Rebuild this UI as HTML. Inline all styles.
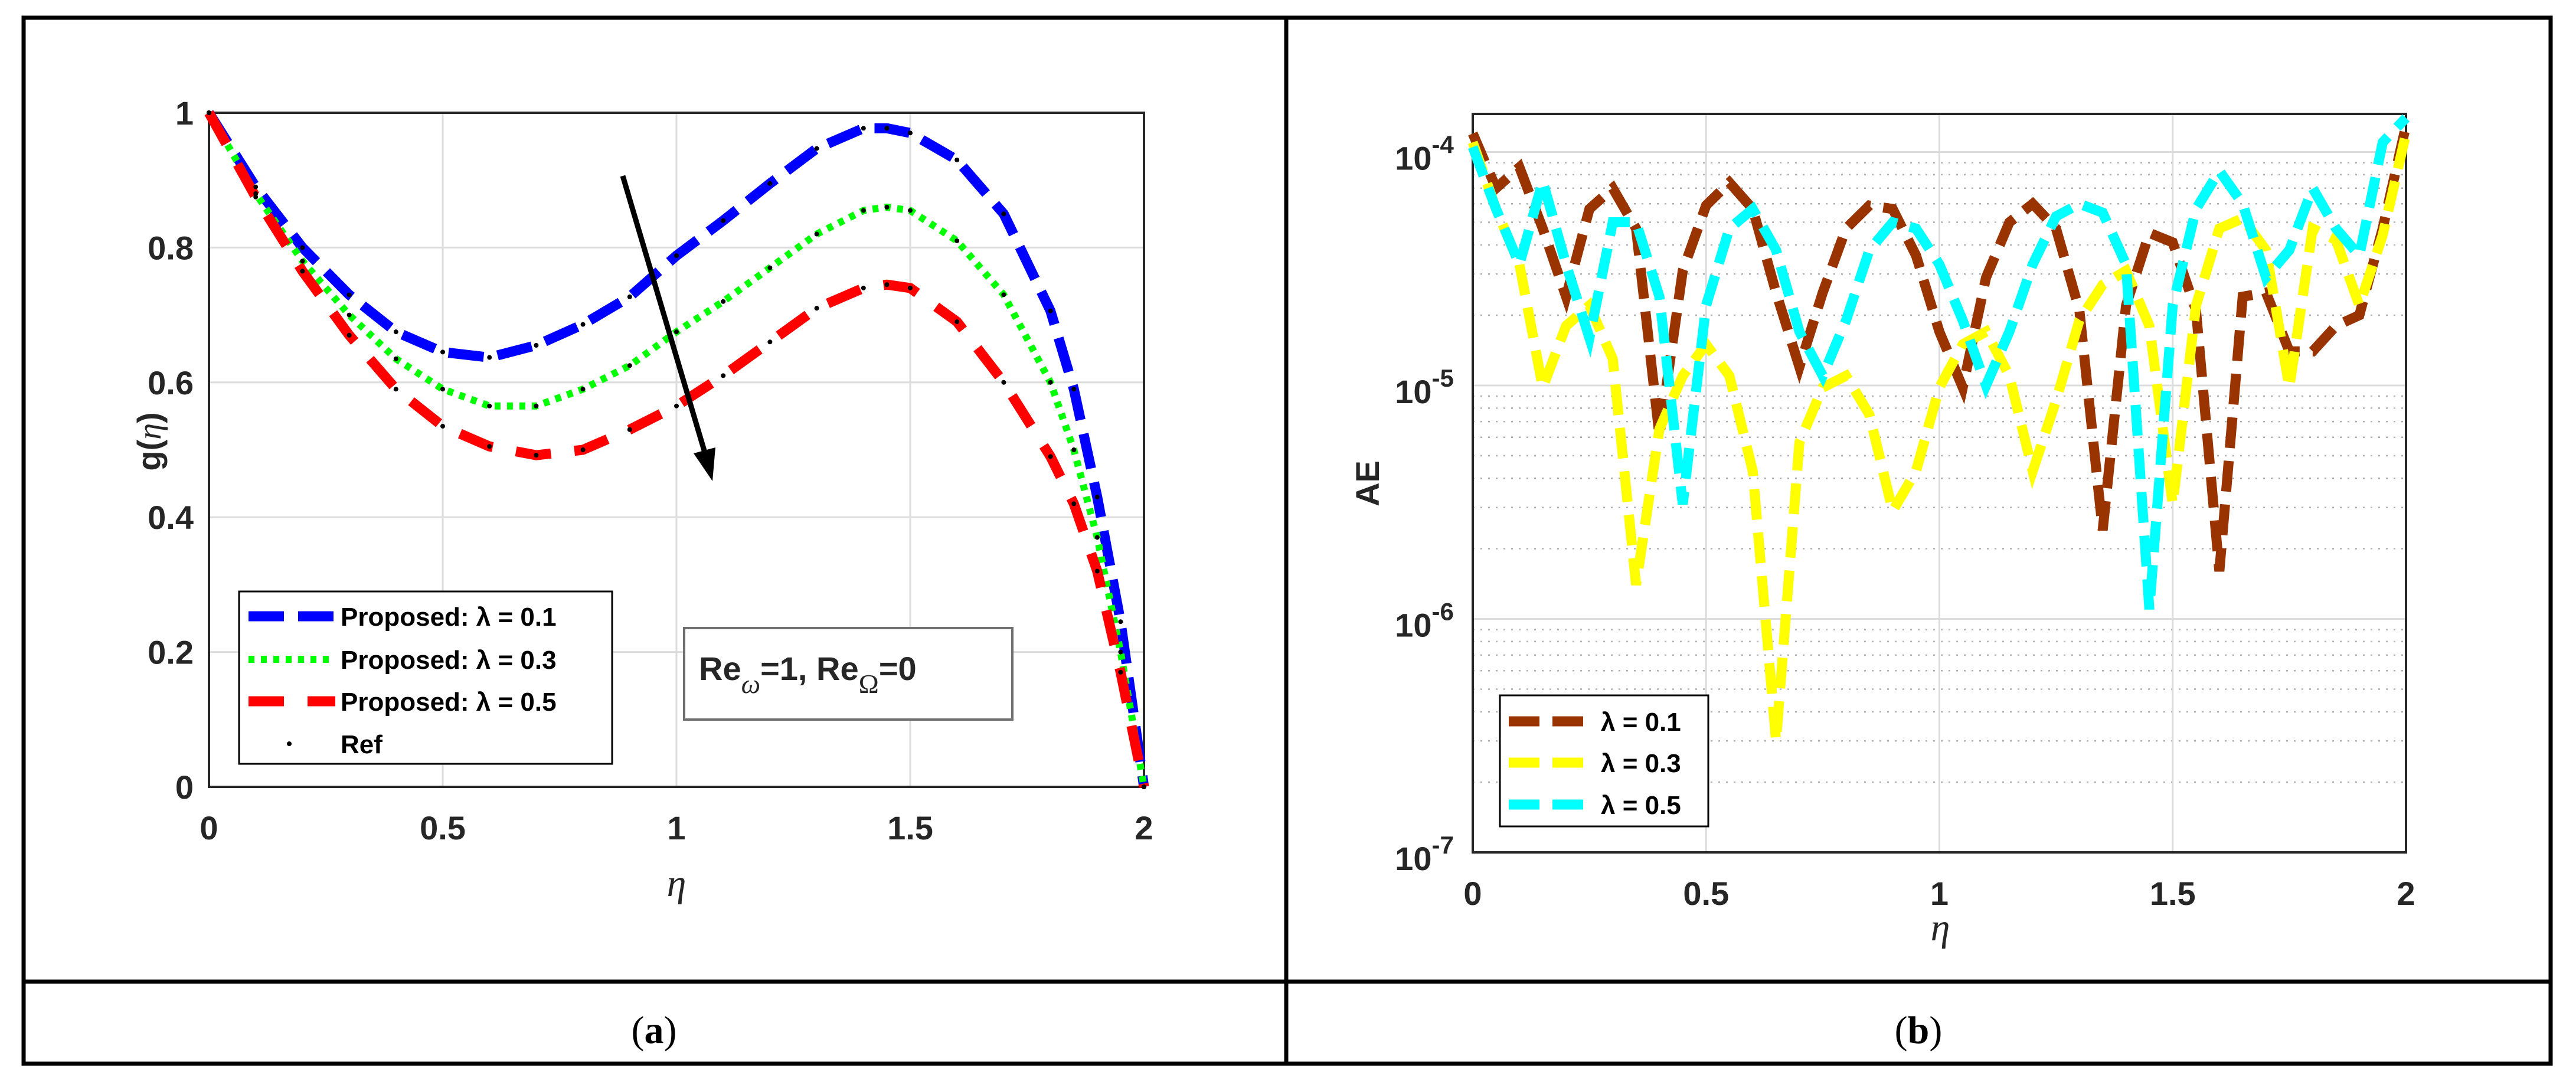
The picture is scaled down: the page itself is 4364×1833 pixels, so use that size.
<!DOCTYPE html>
<html><head><meta charset="utf-8">
<style>
html,body{margin:0;padding:0;background:#fff;}
svg{display:block;}
.tk{font-family:"Liberation Sans",Arial,sans-serif;font-weight:bold;font-size:56px;fill:#262626;}
.lg{font-family:"Liberation Sans",Arial,sans-serif;font-weight:bold;font-size:44px;fill:#000;}
.eta{font-family:"Liberation Serif",serif;font-style:italic;font-size:66px;fill:#262626;}
.cap{font-family:"Liberation Serif",serif;font-size:66px;fill:#000;}
</style></head>
<body>
<svg id="fig" width="4364" height="1833" viewBox="0 0 4364 1833" xmlns="http://www.w3.org/2000/svg">
<rect x="0" y="0" width="4364" height="1833" fill="#fff"/>
<g id="frame" fill="none" stroke="#000" stroke-width="7">
<rect x="40" y="30" width="4281" height="1772"/>
<line x1="2179" y1="30" x2="2179" y2="1802"/>
<line x1="40" y1="1663" x2="4321" y2="1663"/>
</g>
<text class="cap" x="1108" y="1767" text-anchor="middle">(<tspan font-weight="bold">a</tspan>)</text>
<text class="cap" x="3250" y="1767" text-anchor="middle">(<tspan font-weight="bold">b</tspan>)</text>
<g id="chartA"></g>
<g id="chartB"></g>
</svg>
<script>
// ---------- Chart (a) data ----------
const etaA = [0,0.1,0.2,0.3,0.4,0.5,0.6,0.7,0.8,0.9,1.0,1.1,1.2,1.3,1.4,1.45,1.5,1.6,1.7,1.8,1.85,1.9,1.95,2.0];
const gL01 = [1,0.89,0.80,0.73,0.675,0.645,0.637,0.655,0.686,0.727,0.788,0.84,0.895,0.947,0.977,0.977,0.97,0.93,0.85,0.706,0.59,0.43,0.245,0];
const gL03 = [1,0.88,0.78,0.70,0.635,0.59,0.565,0.565,0.59,0.625,0.675,0.72,0.77,0.82,0.855,0.86,0.855,0.81,0.73,0.60,0.50,0.37,0.20,0];
const gL05 = [1,0.875,0.765,0.67,0.59,0.535,0.505,0.492,0.50,0.53,0.565,0.61,0.66,0.71,0.74,0.745,0.74,0.69,0.60,0.49,0.42,0.32,0.17,0];
const xTicksA = [0,0.5,1,1.5,2];
const xTickLabelsA = ["0","0.5","1","1.5","2"];
const yTicksA = [0,0.2,0.4,0.6,0.8,1];
const yTickLabelsA = ["0","0.2","0.4","0.6","0.8","1"];
// ---------- Chart (b) data ----------
const etaB = [0,0.05,0.1,0.15,0.2,0.25,0.3,0.35,0.4,0.45,0.5,0.55,0.6,0.65,0.7,0.75,0.8,0.85,0.9,0.95,1.0,1.05,1.1,1.15,1.2,1.25,1.3,1.35,1.4,1.45,1.5,1.55,1.6,1.65,1.7,1.75,1.8,1.85,1.9,1.95,2.0];
const ae01 = [1.2e-4,7e-5,8.6e-5,4.7e-5,2.4e-5,5.7e-5,7e-5,4.7e-5,6.1e-6,3.1e-5,5.9e-5,7.4e-5,5.7e-5,2.5e-5,1.2e-5,2.5e-5,4.7e-5,5.9e-5,5.7e-5,3.6e-5,1.7e-5,9.8e-6,2.9e-5,5e-5,6e-5,4.7e-5,2.1e-5,2.4e-6,2.2e-5,4.5e-5,4.1e-5,2.1e-5,1.6e-6,2.4e-5,2.5e-5,1.4e-5,1.4e-5,1.8e-5,2e-5,4.7e-5,1.3e-4];
const ae03 = [1.1e-4,5.7e-5,3.3e-5,9.8e-6,1.8e-5,2.2e-5,1.3e-5,1.4e-6,6.5e-6,1.1e-5,1.5e-5,1.1e-5,4.3e-6,3e-7,5.7e-6,9.8e-6,1.1e-5,7.5e-6,2.9e-6,4.3e-6,9.8e-6,1.5e-5,1.7e-5,1.1e-5,4.3e-6,8.6e-6,1.9e-5,2.7e-5,3.1e-5,1.8e-5,3.1e-6,2.2e-5,4.7e-5,5.2e-5,3.8e-5,9.8e-6,4.7e-5,4.2e-5,2.2e-5,4.4e-5,1.2e-4];
const ae05 = [1.05e-4,5.7e-5,3.3e-5,7.5e-5,3.3e-5,1.6e-5,5e-5,5e-5,2.4e-5,3.1e-6,2.2e-5,4.7e-5,5.7e-5,3.8e-5,1.7e-5,1.1e-5,1.9e-5,3.8e-5,5e-5,4.7e-5,3.3e-5,1.9e-5,1e-5,1.7e-5,3.3e-5,5.3e-5,6e-5,5.5e-5,3.3e-5,1.1e-6,2.2e-5,5.7e-5,8.3e-5,6e-5,2.9e-5,3.8e-5,7e-5,4.7e-5,3.6e-5,1.1e-4,1.4e-4];
const xTicksB = [0,0.5,1,1.5,2];
const xTickLabelsB = ["0","0.5","1","1.5","2"];
const yDecadesB = [-7,-6,-5,-4];
const yTickExpB = ["-7","-6","-5","-4"];

const NS = "http://www.w3.org/2000/svg";
function mk(tag, attrs, parent){ const e=document.createElementNS(NS,tag); for(const k in attrs) e.setAttribute(k,attrs[k]); parent.appendChild(e); return e; }

// ---------- Chart A ----------
(function(){
  const g = document.getElementById('chartA');
  const L=354,R=1938,T=191,B=1333;
  const sx = v => L + (v-0)/(2-0)*(R-L);
  const sy = v => B - (v-0)/(1-0)*(B-T);
  xTicksA.forEach((t,i)=>{
    const gl = mk('line',{x1:sx(t),y1:T,x2:sx(t),y2:B,stroke:'#dcdcdc','stroke-width':3},g);
    
    
    const tx = mk('text',{x:sx(t),y:1422,'text-anchor':'middle',class:'tk'},g);
    tx.textContent = xTickLabelsA[i];
    
    
  });
  yTicksA.forEach((t,i)=>{
    const gl = mk('line',{x1:L,y1:sy(t),x2:R,y2:sy(t),stroke:'#dcdcdc','stroke-width':3},g);
    
    
    const tx = mk('text',{x:L-26,y:sy(t)+20,'text-anchor':'end',class:'tk'},g);
    tx.textContent = yTickLabelsA[i];
    
    
  });
  const ax = mk('rect',{x:L,y:T,width:R-L,height:B-T,fill:'none',stroke:'#262626','stroke-width':4},g);
  
  
  const series = [
    {d:gL01,c:'#0000ff',dash:'60 24',w:17,n:'series-lambda-0-1'},
    {d:gL03,c:'#00ff00',dash:'10 11',w:12,n:'series-lambda-0-3'},
    {d:gL05,c:'#ff0000',dash:'60 40',w:17,n:'series-lambda-0-5'}
  ];
  series.forEach(s=>{
    const p = mk('polyline',{points:etaA.map((x,i)=>sx(x)+','+sy(s.d[i])).join(' '),fill:'none',stroke:s.c,'stroke-width':s.w,'stroke-dasharray':s.dash,'stroke-linejoin':'round'},g);
    
    
  });
  series.forEach(s=>{
    etaA.forEach((x,i)=>{
      const c = mk('circle',{cx:sx(x),cy:sy(s.d[i]),r:4,fill:'#000'},g);
      
      
    });
  });
  const ar = mk('line',{x1:1055,y1:298,x2:1195,y2:770,stroke:'#000','stroke-width':9},g);
  
  
  const ah = mk('polygon',{points:'1207,815 1175,768 1212,758',fill:'#000'},g);
  
  
  const lg = mk('g',{},g);
  
  
  mk('rect',{x:405,y:1002,width:632,height:292,fill:'#fff',stroke:'#000','stroke-width':3},lg);
  const names=['Proposed:  \u03bb = 0.1','Proposed:  \u03bb = 0.3','Proposed:  \u03bb = 0.5','Ref'];
  const ys=[1044,1117,1188,1260];
  series.forEach((s,i)=>{
    const l = mk('line',{x1:421,y1:ys[i],x2:568,y2:ys[i],stroke:s.c,'stroke-width':s.w,'stroke-dasharray':s.dash},lg);
    
    
  });
  const rd = mk('circle',{cx:490,cy:ys[3],r:4,fill:'#000'},lg);
  
  
  names.forEach((n,i)=>{
    const t = mk('text',{x:577,y:ys[i]+16,class:'lg'},lg);
    t.textContent=n;
    
    
  });
  const an = mk('g',{},g);
  
  
  mk('rect',{x:1159,y:1064,width:556,height:155,fill:'#fff',stroke:'#707070','stroke-width':4},an);
  const at = mk('text',{x:1184,y:1152,class:'tk','font-size':'62'},an);
  at.innerHTML = 'Re<tspan dy="22" font-family="Liberation Serif" font-style="italic" font-weight="normal" font-size="46">\u03c9</tspan><tspan dy="-22">=1, Re</tspan><tspan dy="22" font-family="Liberation Serif" font-weight="normal" font-size="46">\u03a9</tspan><tspan dy="-22">=0</tspan>';
  const xl = mk('text',{x:1146,y:1518,'text-anchor':'middle',class:'eta'},g);
  xl.textContent='\u03b7';
  
  
  const yl = mk('text',{x:0,y:0,'text-anchor':'middle',class:'tk',transform:'translate(272,748) rotate(-90)'},g);
  yl.innerHTML='g(<tspan font-family="Liberation Serif" font-style="italic" font-weight="normal">\u03b7</tspan>)';
  
  
})();

// ---------- Chart B ----------
(function(){
  const g = document.getElementById('chartB');
  const L=2495,R=4076,T=193,B=1444;
  const yMin=-7, dec=395.5;
  const yMax = yMin + (B-T)/dec;
  const sx = v => L + v/2*(R-L);
  const sy = v => B - (Math.log10(v)-yMin)/(yMax-yMin)*(B-T);
  yDecadesB.forEach(d=>{
    for(let m=2;m<=9;m++){
      const v=m*Math.pow(10,d);
      if(sy(v)<T) continue;
      const gl = mk('line',{x1:L,y1:sy(v),x2:R,y2:sy(v),stroke:'#b0b0b0','stroke-width':2.5,'stroke-dasharray':'3 10'},g);
      
      
    }
  });
  yDecadesB.forEach((d,i)=>{
    const v=Math.pow(10,d);
    const gl = mk('line',{x1:L,y1:sy(v),x2:R,y2:sy(v),stroke:'#dcdcdc','stroke-width':3},g);
    
    
    const t = mk('text',{x:L-82,y:sy(v)+30,'text-anchor':'middle',class:'tk'},g);
    t.innerHTML='10<tspan dy="-28" font-size="42">'+yTickExpB[i]+'</tspan>';
    
    
  });
  xTicksB.forEach((t,i)=>{
    const gl = mk('line',{x1:sx(t),y1:T,x2:sx(t),y2:B,stroke:'#dcdcdc','stroke-width':3},g);
    
    
    const tx = mk('text',{x:sx(t),y:1533,'text-anchor':'middle',class:'tk'},g);
    tx.textContent = xTickLabelsB[i];
    
    
  });
  const ax = mk('rect',{x:L,y:T,width:R-L,height:B-T,fill:'none',stroke:'#262626','stroke-width':4},g);
  
  
  const series=[
    {d:ae01,c:'#993300',n:'series-lambda-0-1'},
    {d:ae03,c:'#ffff00',n:'series-lambda-0-3'},
    {d:ae05,c:'#00ffff',n:'series-lambda-0-5'}
  ];
  const clip = mk('clipPath',{id:'clipB'},g);
  mk('rect',{x:L-10,y:T-10,width:R-L+20,height:B-T+20},clip);
  series.forEach(s=>{
    const p = mk('polyline',{points:etaB.map((x,i)=>sx(x)+','+sy(s.d[i])).join(' '),fill:'none',stroke:s.c,'stroke-width':17,'stroke-dasharray':'52 22','clip-path':'url(#clipB)'},g);
    
    
  });
  const lg = mk('g',{},g);
  
  
  mk('rect',{x:2541,y:1178,width:353,height:222,fill:'#fff',stroke:'#000','stroke-width':3},lg);
  const names=['\u03bb = 0.1','\u03bb = 0.3','\u03bb = 0.5'];
  const ys=[1222,1292,1363];
  series.forEach((s,i)=>{
    const l = mk('line',{x1:2556,y1:ys[i],x2:2700,y2:ys[i],stroke:s.c,'stroke-width':17,'stroke-dasharray':'52 22'},lg);
    
    
    const t = mk('text',{x:2712,y:ys[i]+16,class:'lg'},lg);
    t.textContent=names[i];
    
    
  });
  const xl = mk('text',{x:3287,y:1593,'text-anchor':'middle',class:'eta'},g);
  xl.textContent='\u03b7';
  
  
  const yl = mk('text',{x:0,y:0,'text-anchor':'middle',class:'tk',transform:'translate(2336,819) rotate(-90)'},g);
  yl.textContent='AE';
  
  
})();
</script>
</body></html>
